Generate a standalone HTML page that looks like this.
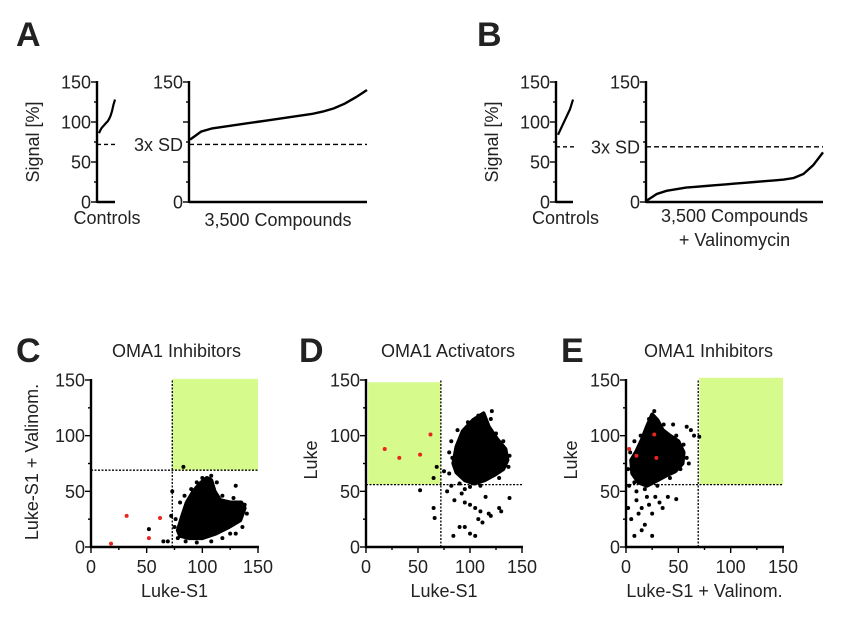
<!DOCTYPE html>
<html><head><meta charset="utf-8"><style>
html,body{margin:0;padding:0;background:#fff}
svg{display:block;font-family:"Liberation Sans",Arial,sans-serif}
</style></head><body>
<svg id="fig" width="865" height="633" viewBox="0 0 865 633" xmlns="http://www.w3.org/2000/svg"></svg>
<script>
// ---- data ----
const ctrlA=[86,90,93,95,97,99,101,104,108,114,122,128];
const cmpA=[78,88,92,94,96,98,100,102,104,106,108,110,113,117,123,131,140];
const ctrlB=[84,88,92,96,100,104,108,112,116,122,128];
const cmpB=[2,10,14,16,18,19,20,21,22,23,24,25,26,27,28,30,35,46,62];
const sdA=72, sdB=69;
const blobC=[[78,15],[82,28],[86,40],[92,50],[98,57],[104,62],[108,60],[111,50],[116,42],[125,40],[135,40],[138,35],[134,24],[124,18],[112,12],[100,8],[88,8],[80,10]];
const outC=[[52,16],[65,5],[69,5],[72,28],[73,50],[83,72],[130,55],[75,18],[80,40],[84,46],[90,52],[95,58],[100,62],[108,64],[113,58],[118,46],[128,44],[138,38],[140,30],[136,18],[130,12],[125,12],[118,8],[108,5],[95,4],[85,5],[78,8],[76,25]];
const redC=[[18,3],[32,28],[52,8],[62,26]];
const blobD=[[84,75],[87,90],[93,104],[103,114],[113,120],[118,108],[126,97],[134,88],[136,78],[132,70],[124,65],[114,60],[104,57],[95,60],[87,67]];
const outD=[[85,42],[92,48],[95,40],[100,38],[105,35],[110,32],[118,30],[90,18],[95,18],[100,12],[105,10],[108,25],[112,22],[120,28],[130,32],[128,35],[138,44],[65,35],[66,26],[52,51],[65,62],[68,72],[75,68],[80,66],[82,55],[78,50],[95,52],[115,45],[84,10],[80,85],[82,95],[88,105],[98,112],[108,118],[120,115],[125,102],[132,95],[138,82],[137,72],[128,62],[110,55],[100,54],[90,57],[83,80],[121,122]];
const redD=[[18,88],[32,80],[52,83],[62,101]];
const blobE=[[5,78],[10,86],[15,96],[20,108],[25,119],[30,114],[35,105],[42,100],[50,95],[55,85],[54,75],[47,68],[38,64],[30,60],[20,55],[12,58],[6,66]];
const outE=[[2,35],[5,25],[8,10],[10,42],[12,30],[15,35],[18,20],[20,45],[22,38],[25,30],[28,45],[32,40],[35,35],[40,45],[48,43],[25,10],[15,15],[60,75],[62,105],[65,100],[70,99],[58,108],[3,55],[10,50],[45,110],[2,70],[4,85],[8,95],[14,100],[22,115],[27,122],[36,110],[48,100],[55,92],[58,80],[52,70],[42,62],[30,55],[18,52],[8,58]];
const redE=[[3,88],[10,82],[27,101],[29,80]];
const yTicks=[0,50,100,150];
const xTicks=[0,50,100,150];
// ---- helpers ----
const NS="http://www.w3.org/2000/svg";
const svg=document.getElementById('fig');
const FS=18;
function mk(tag,attrs,name,parent){const e=document.createElementNS(NS,tag);for(const k in attrs)e.setAttribute(k,attrs[k]);


(parent||svg).appendChild(e);return e;}
function txt(x,y,s,size,name,anchor,extra){const t=mk('text',Object.assign({x:x,y:y,'font-size':size,'text-anchor':anchor||'middle',fill:'#222'},extra||{}),name);t.textContent=s;return t;}
function yAxis(x,y0,y1,labels,name){
  const sy=v=>y0-(y0-y1)*v/150;
  mk('line',{x1:x,y1:y1-1,x2:x,y2:y0+1,stroke:'#000','stroke-width':2.4},name+'-line');
  for(let v=0;v<=150;v+=25){mk('line',{x1:x-(v%50?3:6),y1:sy(v),x2:x,y2:sy(v),stroke:'#000','stroke-width':1.4},name+'-tick');}
  if(labels)labels.forEach(v=>txt(x-6,sy(v)+6.5,String(v),FS,name+'-label','end'));
  return sy;
}
// ---- Panel letters ----
[['A',16,46],['B',477,46],['C',16,362],['D',299,362],['E',561,362]].forEach(p=>txt(p[1],p[2],p[0],34,'panel-label-'+p[0].toLowerCase(),'start',{'font-weight':'bold',fill:'#222'}));
// ---- Rank plots ----
function rankPanel(cx0,cx1,px0,px1,ctrl,cmp,sd,key,xl){
  const y0=202,y1=82;
  const sy=yAxis(cx0,y0,y1,yTicks,key+'-controls-y-axis');
  mk('line',{x1:cx0,y1:y0,x2:cx1,y2:y0,stroke:'#000','stroke-width':2.4},key+'-controls-x-axis');
  const cs=i=>cx0+2+(cx1-cx0-2)*i/(ctrl.length-1);
  mk('polyline',{points:ctrl.map((v,i)=>cs(i)+','+sy(v)).join(' '),fill:'none',stroke:'#000','stroke-width':2.2},key+'-controls-curve');
  yAxis(px0,y0,y1,[0,150],key+'-compounds-y-axis');
  mk('line',{x1:px0,y1:y0,x2:px1,y2:y0,stroke:'#000','stroke-width':2.4},key+'-compounds-x-axis');
  const ps=i=>px0+1+(px1-px0-1)*i/(cmp.length-1);
  mk('polyline',{points:cmp.map((v,i)=>ps(i)+','+sy(v)).join(' '),fill:'none',stroke:'#000','stroke-width':2.4},key+'-compounds-curve');
  mk('line',{x1:cx0,y1:sy(sd),x2:cx1+3,y2:sy(sd),stroke:'#000','stroke-width':1.4,'stroke-dasharray':'4,3'},key+'-controls-sd-line');
  mk('line',{x1:px0,y1:sy(sd),x2:px1,y2:sy(sd),stroke:'#000','stroke-width':1.4,'stroke-dasharray':'5,3'},key+'-sd-line');
  txt(px0-6,sy(sd)+6.5,'3x SD',FS,key+'-sd-label','end');
  const t=mk('text',{x:0,y:0,'font-size':FS,'text-anchor':'middle',fill:'#222',transform:`translate(${cx0-58},142) rotate(-90)`},key+'-y-title');t.textContent='Signal [%]';
  txt((cx0+cx1)/2+1,224,'Controls',FS,key+'-controls-label');
  xl.forEach((s,i)=>txt((px0+px1)/2,(xl.length>1?222:226)+i*24,s,FS,key+'-compounds-label'));
}
rankPanel(97,115,189,367,ctrlA,cmpA,sdA,'a',['3,500 Compounds']);
rankPanel(556,573,646,823,ctrlB,cmpB,sdB,'b',['3,500 Compounds','+ Valinomycin']);
// ---- Scatter panels ----
function scatter(x0,x1,key,title,xlab,ylab,green,vline,hline,blob,out,red){
  const y0=547,y1=380;
  const sx=v=>x0+(x1-x0)*v/150, sy=v=>y0-(y0-y1)*v/150;
  mk('rect',{x:sx(green[0]),y:sy(green[3]),width:sx(green[1])-sx(green[0]),height:sy(green[2])-sy(green[3]),fill:'#d6fa8c'},key+'-hit-region');
  mk('line',{x1:sx(vline),y1:sy(0),x2:sx(vline),y2:sy(150),stroke:'#000','stroke-width':1.3,'stroke-dasharray':'2,1.5'},key+'-threshold-x');
  mk('line',{x1:sx(0),y1:sy(hline),x2:sx(150),y2:sy(hline),stroke:'#000','stroke-width':1.3,'stroke-dasharray':'2,1.5'},key+'-threshold-y');
  mk('polygon',{points:blob.map(p=>sx(p[0])+','+sy(p[1])).join(' '),fill:'#000',stroke:'#000','stroke-width':4,'stroke-linejoin':'round'},key+'-point-cloud');
  out.forEach(p=>mk('circle',{cx:sx(p[0]),cy:sy(p[1]),r:2,fill:'#000'},key+'-point'));
  red.forEach(p=>mk('circle',{cx:sx(p[0]),cy:sy(p[1]),r:2,fill:'#e8251f'},key+'-hit-point'));
  yAxis(x0,y0,y1,yTicks,key+'-y-axis');
  mk('line',{x1:x0-1,y1:y0,x2:x1+1,y2:y0,stroke:'#000','stroke-width':2.4},key+'-x-axis-line');
  for(let v=0;v<=150;v+=25)mk('line',{x1:sx(v),y1:y0,x2:sx(v),y2:y0+(v%50?3:6),stroke:'#000','stroke-width':1.4},key+'-x-tick');
  xTicks.forEach(v=>txt(sx(v),y0+26,String(v),FS,key+'-x-tick-label'));
  txt((x0+x1)/2,597,xlab,FS,key+'-x-title');
  txt((x0+x1)/2+(key==='c'?2:4),357,title,FS,key+'-title');
  const t=mk('text',{x:0,y:0,'font-size':FS,'text-anchor':'middle',fill:'#222',transform:`translate(${x0-(key==='c'?53:49)},${key==='c'?462:460}) rotate(-90)`},key+'-y-title');t.textContent=ylab;
}
scatter(91,258,'c','OMA1 Inhibitors','Luke-S1','Luke-S1 + Valinom.',[73,150,69,151],73,69,blobC,outC,redC);
scatter(366,522,'d','OMA1 Activators','Luke-S1','Luke',[2,72,56,148],72,56,blobD,outD,redD);
scatter(626,783,'e','OMA1 Inhibitors','Luke-S1 + Valinom.','Luke',[70,150,56,152],69,56,blobE,outE,redE);
</script>
</body></html>
